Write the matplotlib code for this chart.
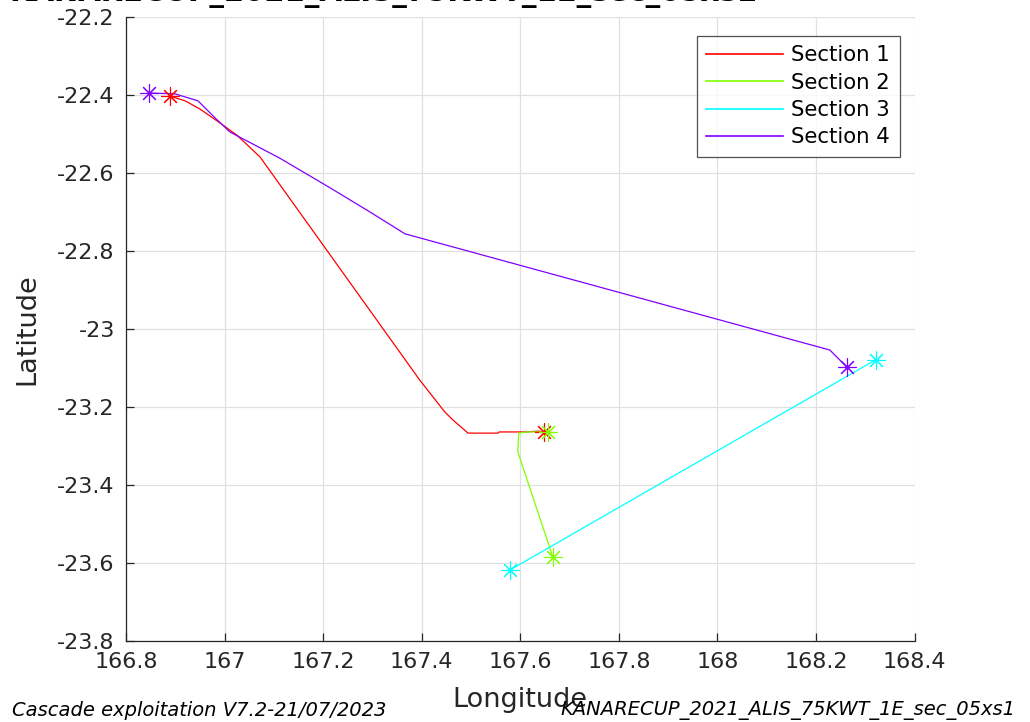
import matplotlib
matplotlib.use("Agg")
import matplotlib.pyplot as plt
from matplotlib.ticker import FuncFormatter, FixedLocator

# Ship track sections (longitude, latitude)
sec1_lon = [166.889, 166.920, 166.950, 166.991, 167.025, 167.072, 167.396, 167.447,
            167.463, 167.494, 167.555, 167.557, 167.613, 167.636, 167.648]
sec1_lat = [-22.403, -22.415, -22.436, -22.472, -22.503, -22.559, -23.131, -23.213,
            -23.233, -23.267, -23.267, -23.264, -23.264, -23.262, -23.264]

sec2_lon = [167.656, 167.613, 167.597, 167.595, 167.666]
sec2_lat = [-23.264, -23.264, -23.267, -23.315, -23.585]

sec3_lon = [167.579, 168.321]
sec3_lat = [-23.618, -23.079]

sec4_lon = [166.847, 166.899, 166.946, 166.981, 167.011, 167.112, 167.214, 167.295,
            167.366, 168.228, 168.262]
sec4_lat = [-22.395, -22.397, -22.415, -22.459, -22.495, -22.562, -22.638, -22.700,
            -22.756, -23.054, -23.097]

section_names = ["Section 1", "Section 2", "Section 3", "Section 4"]
section_colors = [(1.0, 0.0, 0.0), (0.5, 1.0, 0.0), (0.0, 1.0, 1.0), (0.5, 0.0, 1.0)]

x_ticks = [166.8, 167.0, 167.2, 167.4, 167.6, 167.8, 168.0, 168.2, 168.4]
y_ticks = [-23.8, -23.6, -23.4, -23.2, -23.0, -22.8, -22.6, -22.4, -22.2]

title_text = "KANARECUP_2021_ALIS_75KWT_1E_sec_05xs1"
footer_left = "Cascade exploitation V7.2-21/07/2023"
footer_right = "KANARECUP_2021_ALIS_75KWT_1E_sec_05xs1"

plt.rcParams['font.family'] = ['DejaVu Sans']
axis_color = (0.15, 0.15, 0.15)

fig = plt.figure(figsize=(10.30, 7.22), dpi=100)
ax = fig.add_axes([0.1223, 0.1122, 0.888 - 0.1223, 0.9765 - 0.1122])

sections = [(sec1_lon, sec1_lat), (sec2_lon, sec2_lat),
            (sec3_lon, sec3_lat), (sec4_lon, sec4_lat)]
star = (8, 2, 0)
for (lon, lat), name, col in zip(sections, section_names, section_colors):
    ax.plot(lon, lat, color=col, lw=0.9, label=name, zorder=3)
    ax.plot([lon[0], lon[-1]], [lat[0], lat[-1]], linestyle='none', marker=star,
            markersize=13, markeredgewidth=0.8, color=col, zorder=4)

ax.set_xlim(166.8, 168.4)
ax.set_ylim(-23.8, -22.2)
ax.xaxis.set_major_locator(FixedLocator(x_ticks))
ax.yaxis.set_major_locator(FixedLocator(y_ticks))
fmt = FuncFormatter(lambda v, p: "%g" % round(v, 1))
ax.xaxis.set_major_formatter(fmt)
ax.yaxis.set_major_formatter(fmt)

ax.grid(True, color=(0.88, 0.88, 0.88), lw=0.9, zorder=0)
ax.set_axisbelow(True)
for side in ['top', 'right']:
    ax.spines[side].set_visible(False)
for side in ['left', 'bottom']:
    ax.spines[side].set_color(axis_color)
    ax.spines[side].set_linewidth(0.9)
ax.tick_params(direction='in', length=6, width=0.9, color=axis_color,
               labelcolor=axis_color, labelsize=16, pad=8)

ax.set_xlabel("Longitude", fontsize=19.5, color=axis_color)
ax.set_ylabel("Latitude", fontsize=19.5, color=axis_color)
ax.xaxis.set_label_coords(0.5, -0.074)
ax.yaxis.set_label_coords(-0.108, 0.5)

leg = ax.legend(loc='upper right', bbox_to_anchor=(0.981, 0.9696), fontsize=15.3,
                frameon=True, fancybox=False, handlelength=3.6, handletextpad=0.4,
                borderpad=0.45, labelspacing=0.34, borderaxespad=0)
leg.get_frame().set_edgecolor(axis_color)
leg.get_frame().set_linewidth(0.9)
for line in leg.get_lines():
    line.set_linewidth(1.2)

fig.text(383 / 1030, 1.0 - 1 / 722, title_text, ha='center', va='baseline',
         fontsize=21, fontweight='bold', color='black')
fig.text(12 / 1030, 1 - 711 / 722, footer_left, ha='left', va='center',
         fontsize=14, style='italic', color='black')
fig.text(1015 / 1030, 1 - 711 / 722, footer_right, ha='right', va='center',
         fontsize=14, style='italic', color='black')

fig.savefig("out.png", dpi=100)
